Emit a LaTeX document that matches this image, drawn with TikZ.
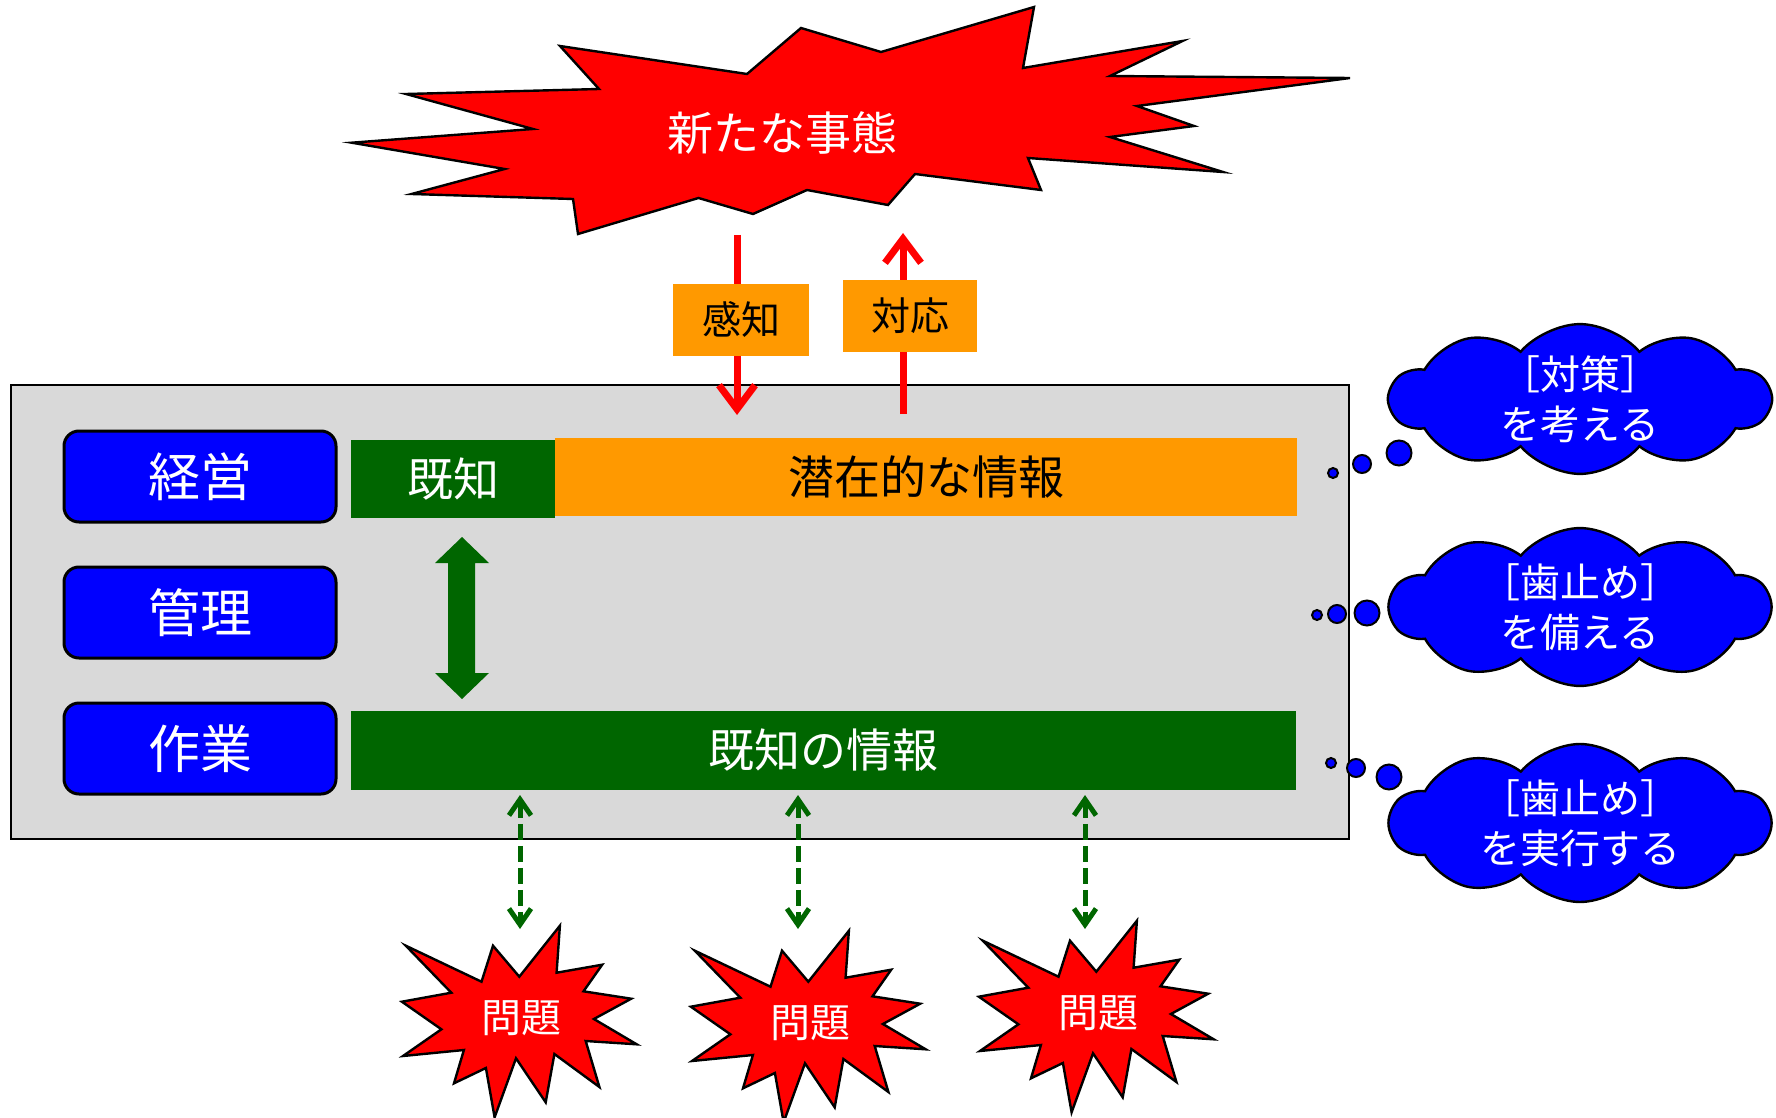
\documentclass[tikz,border=0pt]{standalone}
\usepackage{fontspec}
\setmainfont{Noto Sans CJK JP}
\usetikzlibrary{shapes.symbols,arrows.meta}
\definecolor{dkgreen}{HTML}{006600}
\definecolor{orng}{HTML}{FF9900}
\definecolor{greybg}{HTML}{D9D9D9}
\begin{document}
\begin{tikzpicture}[x=0.5pt,y=-0.5pt,
  role/.style={draw=black, line width=1.5pt, fill=blue, rounded corners=7.5pt, minimum width=136pt, minimum height=45.5pt, text=white, font=\fontsize{26pt}{30pt}\selectfont, inner sep=0pt},
  bar/.style={inner sep=0pt, font=\fontsize{23pt}{27pt}\selectfont},
  lbl/.style={fill=orng, inner sep=0pt, minimum height=36pt, font=\fontsize{19.5pt}{23pt}\selectfont},
  burst/.style={fill=red, draw=black, line width=1.2pt, line join=miter},
  thought/.style={cloud, cloud puffs=10, cloud puff arc=100, cloud ignores aspect, fill=blue, draw=black, line width=1.2pt, minimum width=190pt, minimum height=74pt, inner sep=0pt, text=white, align=center, font=\fontsize{20pt}{25pt}\selectfont},
  dot/.style={circle, fill=blue, draw=black, line width=1pt, inner sep=0pt},
  redarrow/.style={draw=red, line width=3.5pt, -{Straight Barb[length=12pt,width=18pt]}},
  dasharrow/.style={draw=dkgreen, line width=2.5pt, dash pattern=on 8pt off 3pt, {Straight Barb[length=8pt,width=11pt]}-{Straight Barb[length=8pt,width=11pt]}}
]
\useasboundingbox (0,0) rectangle (1776,1118);

% big burst
\draw[burst] (351.7,142.7) -- (533,129) -- (406,94) -- (599,89) -- (560,46) -- (747,74) -- (801,28) -- (881,52) -- (1034,7) -- (1023,68) -- (1182.5,41) -- (1110,76) -- (1350,78) -- (1137,106) -- (1194,126) -- (1110,137) -- (1223,172) -- (1028,158) -- (1041,190) -- (915,174) -- (888,205) -- (807,190) -- (753,214) -- (698.5,198) -- (578,234) -- (573,199) -- (411.6,194) -- (504.6,169) -- cycle;
\node[text=white, font=\fontsize{23pt}{27pt}\selectfont] (event) at (782,133) {新たな事態};

% frame
\node[draw=black, fill=greybg, line width=1.2pt, minimum width=669pt, minimum height=227pt, inner sep=0pt] (frame) at (680,612) {};

% red arrows
\coordinate (s1) at (737,235); \coordinate (s2) at (737,415);
\coordinate (r1) at (903,414); \coordinate (r2) at (903,233);
\draw[redarrow] (s1) -- (s2);
\draw[redarrow] (r1) -- (r2);
\node[lbl, minimum width=68pt] (sense) at (741,320) {感知};
\node[lbl, minimum width=67pt] (respond) at (910,316) {対応};

% roles
\node[role] (keiei) at (200,476.5) {経営};
\node[role] (kanri) at (200,612.5) {管理};
\node[role] (sagyo) at (200,748.5) {作業};

% bars
\node[bar, fill=dkgreen, text=white, minimum width=102pt, minimum height=39pt] (kichi) at (453,479) {既知};
\node[bar, fill=orng, text=black, minimum width=371pt, minimum height=39pt] (latent) at (926,477) {潜在的な情報};
\node[bar, fill=dkgreen, text=white, minimum width=472.5pt, minimum height=39.5pt] (known) at (823.5,750.5) {既知の情報};

% green block double arrow
\fill[dkgreen] (462,537) -- (489,563) -- (475,563) -- (475,673) -- (489,673) -- (462,699) -- (435,673) -- (448,673) -- (448,563) -- (435,563) -- cycle;

% small bursts
\foreach \dx/\dy/\nm in {0/0/p1, 289/5/p2, 577/-5/p3} {
  \begin{scope}[shift={(\dx,\dy)}]
    \draw[burst] (405.8,945.7) -- (481.5,981.7) -- (493,945.7) -- (519.3,976.7) -- (559.9,925.7) -- (556.6,972.7) -- (602.2,964.7) -- (583.5,991.3) -- (631.2,998.7) -- (593.9,1019) -- (636.7,1044.3) -- (585.7,1041) -- (599.4,1087) -- (554.4,1054) -- (545.7,1102.3) -- (516,1058.3) -- (494.6,1117.3) -- (485.9,1068) -- (454,1083.3) -- (463.9,1050) -- (403,1056) -- (441.4,1029.3) -- (401.9,1001.7) -- (451.3,992.7) -- cycle;
    \node[text=white, font=\fontsize{20pt}{24pt}\selectfont] (\nm) at (521.5,1018) {問題};
  \end{scope}
}

% dashed arrows
\coordinate (u1) at (520,795); \coordinate (l1) at (520,929);
\coordinate (u2) at (798,795); \coordinate (l2) at (798,929);
\coordinate (u3) at (1085,795); \coordinate (l3) at (1085,929);
\draw[dasharrow] (u1) -- (l1);
\draw[dasharrow] (u2) -- (l2);
\draw[dasharrow] (u3) -- (l3);

% clouds
\node[thought] (c1) at (1580,399) {［対策］\\を考える};
\node[thought] (c2) at (1580,607) {［歯止め］\\を備える};
\node[thought] (c3) at (1580,823) {［歯止め］\\を実行する};

% thought dots
\node[dot, minimum size=5pt] (d11) at (1333,473) {};
\node[dot, minimum size=9pt] (d12) at (1362,464) {};
\node[dot, minimum size=12.5pt] (d13) at (1399,453) {};
\node[dot, minimum size=5pt] (d21) at (1317,615) {};
\node[dot, minimum size=9pt] (d22) at (1337,614) {};
\node[dot, minimum size=12.5pt] (d23) at (1367,613) {};
\node[dot, minimum size=5pt] (d31) at (1331,763) {};
\node[dot, minimum size=9pt] (d32) at (1356,768) {};
\node[dot, minimum size=12.5pt] (d33) at (1389,777) {};
\end{tikzpicture}
\end{document}
